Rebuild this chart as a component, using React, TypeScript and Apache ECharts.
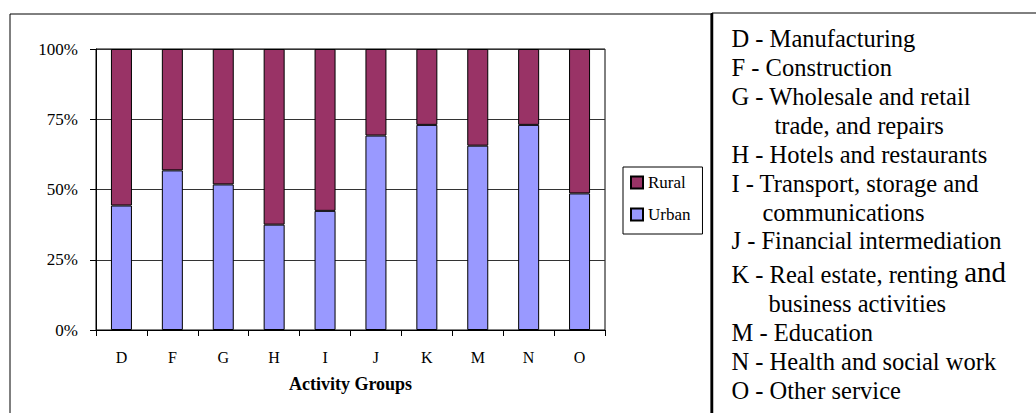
import React, { useEffect, useRef } from "react";
import * as echarts from "echarts";

const categories = ["D", "F", "G", "H", "I", "J", "K", "M", "N", "O"];
const urbanShare = [44.3, 56.8, 51.8, 37.5, 42.4, 69.2, 73.0, 65.6, 73.0, 48.6];
const ruralShare = [55.7, 43.2, 48.2, 62.5, 57.6, 30.8, 27.0, 34.4, 27.0, 51.4];
const seriesNames = ["Urban", "Rural"];
const legendOrder = ["Rural", "Urban"];
const xAxisTitle = "Activity Groups";

const descriptionLines = [
  { text: "D - Manufacturing", indent: 0 },
  { text: "F - Construction", indent: 0 },
  { text: "G - Wholesale and retail", indent: 0 },
  { text: "trade, and repairs", indent: 43 },
  { text: "H - Hotels and restaurants", indent: 0 },
  { text: "I - Transport, storage and", indent: 0 },
  { text: "communications", indent: 31 },
  { text: "J - Financial intermediation", indent: 0 },
  { text: "{n|K - Real estate, renting }{big|and}", indent: 0 },
  { text: "business activities", indent: 37 },
  { text: "M - Education", indent: 0 },
  { text: "N - Health and social work", indent: 0 },
  { text: "O - Other service", indent: 0 },
];
const descriptionY = [38.5, 67, 96, 125, 154, 183, 212, 240, 272, 303, 332, 361, 390];

const FONT = "Liberation Serif, Times New Roman, serif";

export default function App() {
  const ref = useRef<HTMLDivElement>(null);

  useEffect(() => {
    if (!ref.current) return;
    const chart = echarts.init(ref.current, null, { renderer: "svg" });

    const textGraphics = descriptionLines.map((line, i) => {
      const hasRich = line.text.indexOf("{") === 0;
      const style: any = {
        text: line.text,
        fill: "#000",
        font: "24.5px Liberation Serif",
        fontSize: 24.5,
        fontFamily: "Liberation Serif",
        verticalAlign: "middle",
        align: "left",
      };
      if (hasRich) {
        style.rich = {
          n: { fontSize: 24.5, fontFamily: "Liberation Serif", fill: "#000", verticalAlign: "bottom" },
          big: { fontSize: 29, fontFamily: "Liberation Serif", fill: "#000", verticalAlign: "bottom" },
        };
      }
      return {
        type: "text",
        x: 731.5 + line.indent,
        y: descriptionY[i],
        style,
        z: 10,
      };
    });

    chart.setOption({
      animation: false,
      backgroundColor: "#fff",
      textStyle: { fontFamily: FONT, color: "#000" },
      grid: {
        left: 96,
        right: 431,
        top: 49,
        bottom: 83,
        show: true,
        borderColor: "#000",
        borderWidth: 1,
        backgroundColor: "#fff",
      },
      legend: {
        data: legendOrder,
        orient: "vertical",
        left: 623,
        top: 167,
        padding: [7, 12, 11, 7],
        itemWidth: 12,
        itemHeight: 12,
        itemGap: 15,
        icon: "rect",
        borderColor: "#000",
        borderWidth: 1,
        backgroundColor: "#fff",
        textStyle: { fontSize: 17, fontFamily: FONT, color: "#000" },
      },
      xAxis: {
        type: "category",
        data: categories,
        boundaryGap: true,
        axisLine: { lineStyle: { color: "#000", width: 1 } },
        axisTick: { show: true, length: 6, inside: false, lineStyle: { color: "#000" } },
        axisLabel: { fontSize: 16, color: "#000", margin: 19, fontFamily: FONT },
        name: xAxisTitle,
        nameLocation: "middle",
        nameGap: 45,
        nameTextStyle: { fontSize: 18, fontWeight: "bold", color: "#000", fontFamily: FONT },
      },
      yAxis: {
        type: "value",
        min: 0,
        max: 100,
        interval: 25,
        axisLine: { show: true, lineStyle: { color: "#000", width: 1 } },
        axisTick: { show: true, length: 6, inside: false, lineStyle: { color: "#000" } },
        axisLabel: { formatter: "{value}%", fontSize: 17, color: "#000", margin: 18, fontFamily: FONT },
        splitLine: { show: true, lineStyle: { color: "#333", width: 1 } },
      },
      series: [
        {
          name: seriesNames[0],
          type: "bar",
          stack: "total",
          data: urbanShare,
          barWidth: 21,
          itemStyle: { color: "#9999FF", borderColor: "#000", borderWidth: 1 },
        },
        {
          name: seriesNames[1],
          type: "bar",
          stack: "total",
          data: ruralShare,
          barWidth: 21,
          itemStyle: { color: "#993366", borderColor: "#000", borderWidth: 1 },
        },
      ],
      graphic: [
        {
          type: "rect",
          shape: { x: 10, y: 14, width: 701, height: 430 },
          style: { fill: "none", stroke: "#000", lineWidth: 1 },
          z: 0,
          silent: true,
        },
        {
          type: "rect",
          shape: { x: 712, y: 13, width: 340, height: 430 },
          style: { fill: "none", stroke: "#000", lineWidth: 1 },
          z: 0,
          silent: true,
        },
        {
          type: "line",
          shape: { x1: 712, y1: 13, x2: 712, y2: 413 },
          style: { stroke: "#000", lineWidth: 2.5 },
          z: 0,
          silent: true,
        },
        ...textGraphics,
      ],
    });

    return () => chart.dispose();
  }, []);

  return (
    <div
      ref={ref}
      style={{ position: "fixed", left: 0, top: 0, width: 1036, height: 413, background: "#fff" }}
    />
  );
}
